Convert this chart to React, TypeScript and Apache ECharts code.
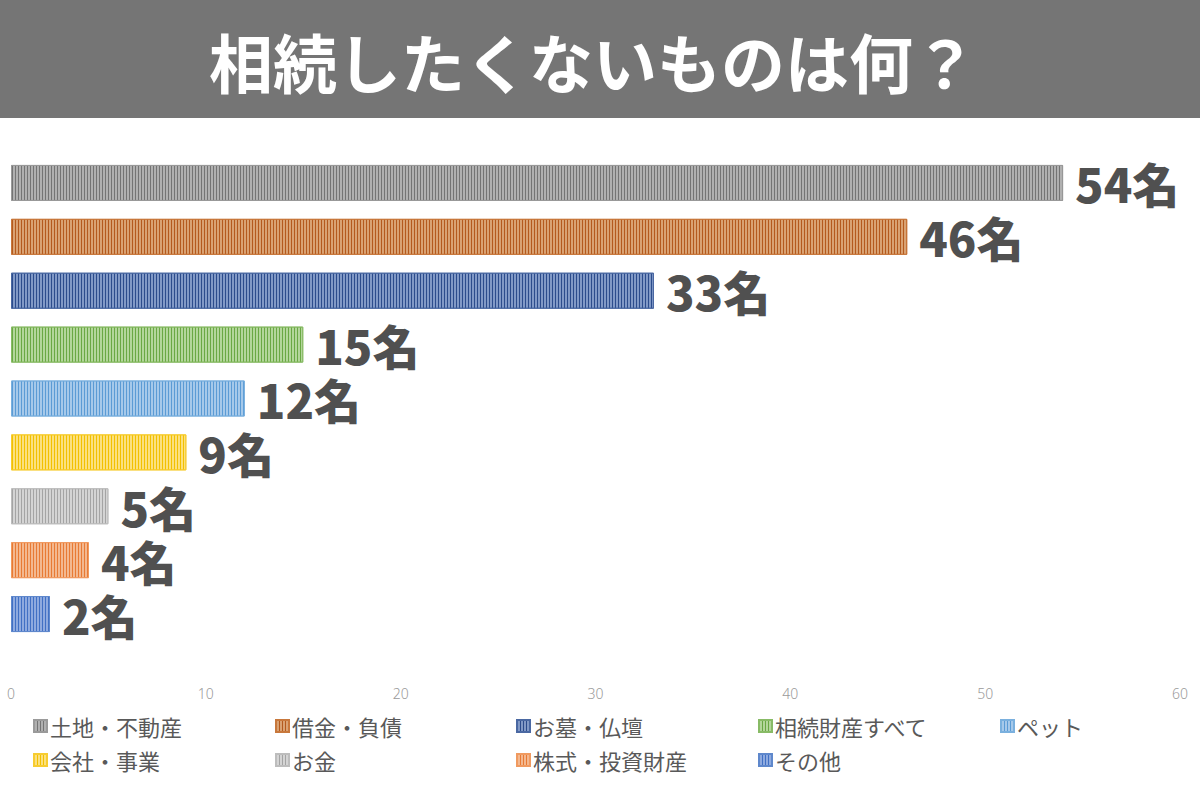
import React, { useEffect, useRef } from "react";
import * as echarts from "echarts";

const categories = [
  "土地・不動産",
  "借金・負債",
  "お墓・仏壇",
  "相続財産すべて",
  "ペット",
  "会社・事業",
  "お金",
  "株式・投資財産",
  "その他",
];
const values = [54, 46, 33, 15, 12, 9, 5, 4, 2];
const baseColors = ["#b0b0b0", "#d9a273", "#8199c6", "#b3d69b", "#a6c9ea", "#fbe07e", "#d4d4d4", "#f3b890", "#8eaadf"];
const stripeColors = ["#747474", "#b45a1e", "#2c4c8c", "#6aa844", "#5b9bd5", "#f2c000", "#a4a4a4", "#e87a34", "#4170c4"];
const borderColors = ["#9a9a9a", "#c8783c", "#4a68a2", "#88bb66", "#7ab0de", "#f7cc30", "#bdbdbd", "#f09a60", "#5f88cc"];
const xTicks = [0, 10, 20, 30, 40, 50, 60];
const legendColumns = [
  ["土地・不動産", "会社・事業"],
  ["借金・負債", "お金"],
  ["お墓・仏壇", "株式・投資財産"],
  ["相続財産すべて", "その他"],
  ["ペット"],
];
const legendX = [28, 270, 511, 753, 995];

export default function App() {
  const ref = useRef<HTMLDivElement>(null);
  useEffect(() => {
    if (!ref.current) return;
    const chart = echarts.init(ref.current, undefined, { renderer: "svg" });
    const font = "'Noto Sans CJK JP', 'Noto Sans', sans-serif";
    const series = categories.map((name, i) => ({
      name,
      type: "bar",
      stack: "all",
      barWidth: 36,
      data: categories.map((_, j) => (j === i ? values[i] : "-")),
      itemStyle: {
        color: baseColors[i],
        borderColor: borderColors[i],
        borderWidth: 1,
        decal: {
          symbol: "rect",
          symbolSize: 1,
          dashArrayX: [1, 2],
          dashArrayY: [20, 0],
          color: stripeColors[i],
          rotation: 0,
        },
      },
      label: {
        show: true,
        position: "right",
        distance: 12,
        formatter: "{c}名",
        fontSize: 47,
        lineHeight: 44,
        fontWeight: 900,
        color: "#505050",
        fontFamily: "'Noto Sans CJK JP', sans-serif",
      },
    }));
    chart.setOption({
      animation: false,
      backgroundColor: "#ffffff",
      graphic: [
        {
          type: "rect",
          left: 0,
          top: 0,
          shape: { width: 1200, height: 118 },
          style: { fill: "#757575" },
          silent: true,
        },
        {
          type: "text",
          x: 593,
          y: 60,
          style: {
            text: "相続したくないものは何？",
            fill: "#ffffff",
            fontSize: 64,
            fontWeight: "bold",
            fontFamily: font,
            align: "center",
            verticalAlign: "middle",
          },
        },
      ],
      grid: { left: 11, right: 20, top: 156, bottom: 159, containLabel: false },
      xAxis: {
        type: "value",
        min: xTicks[0],
        max: xTicks[xTicks.length - 1],
        interval: 10,
        splitLine: { show: false },
        axisLine: { show: false },
        axisTick: { show: false },
        axisLabel: {
          margin: 45,
          fontSize: 14,
          color: "#9a9a9a",
          fontFamily: "'Noto Sans', sans-serif",
          fontWeight: 300,
        },
      },
      yAxis: {
        type: "category",
        inverse: true,
        data: categories,
        show: false,
      },
      legend: legendColumns.map((col, k) => ({
        orient: "vertical",
        left: legendX[k],
        top: 710,
        icon: "rect",
        itemWidth: 13,
        itemHeight: 12,
        itemGap: 12,
        data: col,
        selectedMode: false,
        textStyle: { fontSize: 22, color: "#595959", fontFamily: font, padding: [0, 0, 0, -2] },
      })),
      series,
    });
    return () => chart.dispose();
  }, []);
  return (
    <div
      ref={ref}
      style={{ position: "absolute", left: 0, top: 0, width: 1200, height: 800 }}
    />
  );
}
